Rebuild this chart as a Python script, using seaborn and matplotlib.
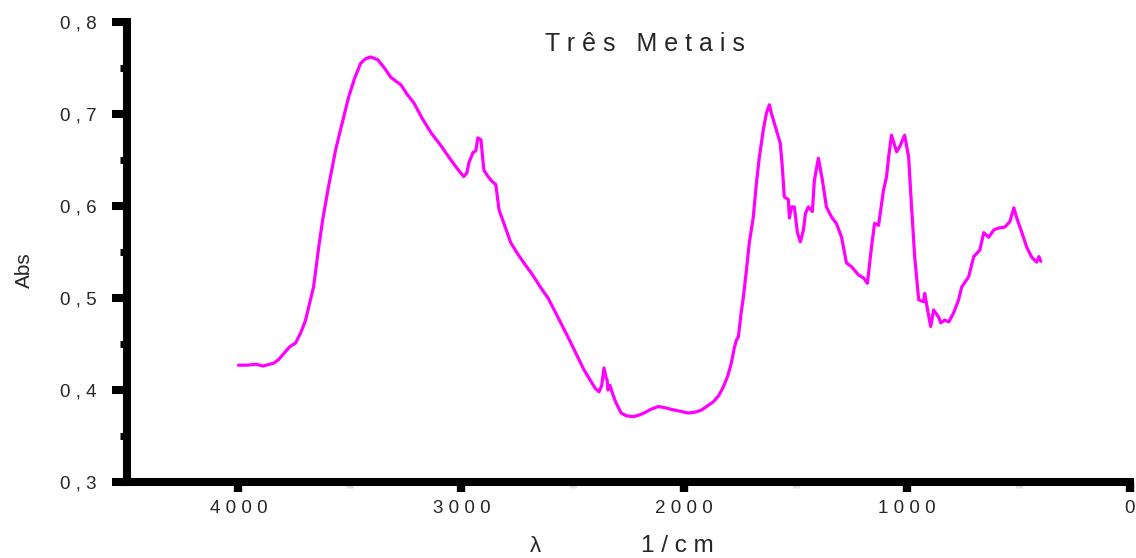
import matplotlib
matplotlib.use("Agg")
import matplotlib.pyplot as plt
import seaborn as sns
import pandas as pd
from matplotlib.ticker import FixedLocator

wavenumber = [4000, 3960, 3920, 3890, 3860, 3843, 3820, 3802, 3770, 3744, 3721, 3700, 3685, 3663,
              3640, 3622, 3596, 3564, 3542, 3506, 3480, 3452, 3430, 3407, 3375, 3345, 3317, 3290,
              3272, 3245, 3213, 3175, 3137, 3090, 3047, 3010, 2989, 2975, 2966, 2948, 2935, 2926,
              2912, 2899, 2880, 2867, 2845, 2831, 2800, 2778, 2750, 2719, 2680, 2643, 2611, 2560,
              2508, 2450, 2400, 2382, 2370, 2360, 2350, 2346, 2342, 2333, 2320, 2306, 2283, 2260,
              2229, 2200, 2180, 2150, 2117, 2090, 2059, 2020, 1982, 1950, 1924, 1900, 1870, 1845,
              1825, 1805, 1789, 1775, 1766, 1757, 1744, 1735, 1721, 1708, 1690, 1676, 1663, 1645,
              1631, 1618, 1609, 1587, 1569, 1560, 1551, 1533, 1528, 1519, 1506, 1492, 1479, 1465,
              1456, 1443, 1425, 1416, 1398, 1380, 1362, 1339, 1317, 1294, 1272, 1249, 1218, 1196,
              1178, 1160, 1146, 1128, 1106, 1092, 1083, 1070, 1047, 1034, 1011, 993, 980, 966,
              948, 926, 921, 908, 894, 881, 858, 849, 831, 813, 791, 769, 755, 724, 701, 674, 656,
              634, 611, 589, 562, 539, 521, 508, 485, 463, 440, 418, 409, 400]
absorbance = [0.427, 0.427, 0.428, 0.426, 0.428, 0.429, 0.433, 0.438, 0.447, 0.451, 0.462, 0.475,
              0.490, 0.512, 0.555, 0.585, 0.621, 0.661, 0.683, 0.718, 0.738, 0.755, 0.760, 0.762,
              0.759, 0.750, 0.740, 0.735, 0.732, 0.722, 0.712, 0.695, 0.680, 0.665, 0.650, 0.638,
              0.632, 0.636, 0.647, 0.658, 0.660, 0.674, 0.672, 0.639, 0.632, 0.628, 0.623, 0.596,
              0.575, 0.560, 0.549, 0.538, 0.525, 0.511, 0.500, 0.476, 0.451, 0.422, 0.402, 0.398,
              0.405, 0.424, 0.413, 0.411, 0.400, 0.405, 0.395, 0.386, 0.375, 0.372, 0.371, 0.373,
              0.375, 0.379, 0.382, 0.381, 0.379, 0.377, 0.375, 0.376, 0.378, 0.382, 0.387, 0.394,
              0.403, 0.415, 0.429, 0.446, 0.454, 0.458, 0.485, 0.500, 0.530, 0.560, 0.588, 0.625,
              0.653, 0.683, 0.701, 0.710, 0.701, 0.683, 0.668, 0.643, 0.610, 0.607, 0.587, 0.599,
              0.599, 0.571, 0.561, 0.574, 0.592, 0.599, 0.594, 0.628, 0.652, 0.628, 0.599, 0.588,
              0.581, 0.566, 0.538, 0.534, 0.525, 0.522, 0.516, 0.555, 0.581, 0.579, 0.617, 0.632,
              0.653, 0.677, 0.659, 0.664, 0.677, 0.653, 0.599, 0.545, 0.498, 0.496, 0.505, 0.487,
              0.469, 0.487, 0.479, 0.473, 0.476, 0.474, 0.484, 0.498, 0.512, 0.523, 0.545, 0.552,
              0.571, 0.566, 0.574, 0.576, 0.577, 0.583, 0.598, 0.587, 0.571, 0.555, 0.544, 0.539,
              0.545, 0.540]

x_ticks = [4000, 3000, 2000, 1000, 0]
x_ticklabels = ["4 0 0 0", "3 0 0 0", "2 0 0 0", "1 0 0 0", "0"]
y_ticks = [0.3, 0.4, 0.5, 0.6, 0.7, 0.8]
y_ticklabels = ["0 , 3", "0 , 4", "0 , 5", "0 , 6", "0 , 7", "0 , 8"]
title = "T r ê s   M e t a i s"
ylabel = "Abs"

sns.set_style("white")
plt.rcParams['font.family'] = ['Liberation Sans', 'DejaVu Sans']

df = pd.DataFrame({"wn": wavenumber, "abs": absorbance})

fig = plt.figure(figsize=(11.36, 5.58), dpi=100)
ax = fig.add_axes([0.1118, 0.1362, 0.8829, 0.8244])
sns.lineplot(data=df, x="wn", y="abs", ax=ax, color="#ff00ff", linewidth=2.3,
             estimator=None, sort=False)

ax.set_xlim(4500, 0)
ax.set_ylim(0.3, 0.8)

for s in ["top", "right"]:
    ax.spines[s].set_visible(False)
for s in ["left", "bottom"]:
    ax.spines[s].set_linewidth(5.8)
    ax.spines[s].set_color("black")

ax.set_xticks(x_ticks)
ax.set_xticklabels(x_ticklabels, fontsize=13.5)
ax.set_yticks(y_ticks)
ax.set_yticklabels(y_ticklabels, fontsize=13.5)
ax.yaxis.set_minor_locator(FixedLocator([0.35, 0.45, 0.55, 0.65, 0.75]))
ax.xaxis.set_minor_locator(FixedLocator([3500, 2500, 1500, 500]))

ax.tick_params(axis="y", which="major", direction="out", length=11, width=5.8,
               color="black", pad=11, left=True)
ax.tick_params(axis="y", which="minor", direction="out", length=5.4, width=5.0,
               color="black", left=True)
ax.tick_params(axis="x", which="major", direction="out", length=7, width=6,
               color="black", pad=6, bottom=True)
ax.tick_params(axis="x", which="minor", direction="out", length=4.3, width=5,
               color="0.88", bottom=True)

ax.set_xlabel("")
ax.set_ylabel("")
ax.grid(False)

ax.text(2175, 0.776, title, ha="center", va="center", fontsize=18)
fig.text(24 / 1136, 1 - 270 / 558, ylabel, rotation=90, ha="center", va="center", fontsize=15)
fig.text(535 / 1136, 1 - 547 / 558, "λ", ha="center", va="center", fontsize=16)
fig.text(677 / 1136, 1 - 546 / 558, "1 / c m", ha="center", va="center", fontsize=17.5)

fig.savefig("out.png", dpi=100)
